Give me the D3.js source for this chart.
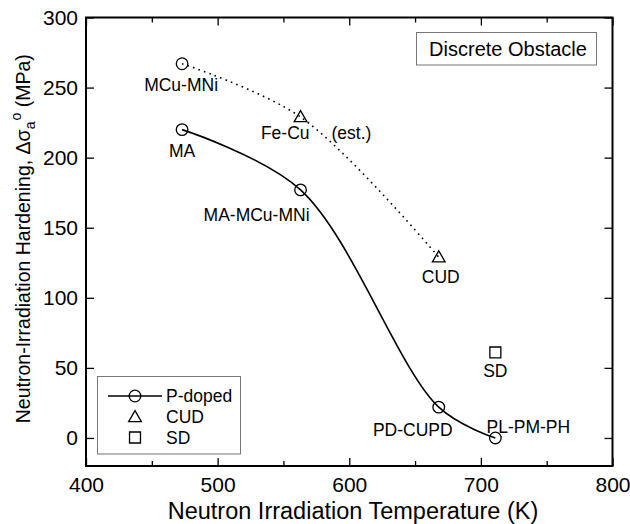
<!DOCTYPE html>
<html>
<head>
<meta charset="utf-8">
<script src="https://cdn.jsdelivr.net/npm/d3@7"></script>
<style>
  html, body { margin: 0; padding: 0; background: #fff; }
  svg text { font-family: "Liberation Sans", Arial, Helvetica, sans-serif; fill: #000; }
</style>
</head>
<body>
<svg id="chart" width="630" height="524"></svg>
<script>
// P-doped steels: irradiation temperature (K) and hardening (MPa)
const pDopedTemp = [473, 563, 668, 711];
const pDopedHard = [220, 177, 22, 0];
const pDopedNames = ["MA", "MA-MCu-MNi", "PD-CUPD", "PL-PM-PH"];

// Cu-containing series (dotted guide): first point circle, the rest triangles
const cuTemp = [473, 563, 668];
const cuHard = [267, 229, 129];
const cuNames = ["MCu-MNi", "Fe-Cu", "CUD"];
const cuShapes = ["circle", "triangle", "triangle"];

// SD steel
const sdTemp = [711];
const sdHard = [61];
const sdNames = ["SD"];

// Axis ticks
const xMajorTicks = [400, 500, 600, 700, 800];
const xMinorTicks = [450, 550, 650, 750];
const yTicks = [0, 50, 100, 150, 200, 250, 300];

const legendNames = ["P-doped", "CUD", "SD"];

const svg = d3.select("#chart");
const L = 86, R = 612.5, T = 17.5, B = 466;

const x = d3.scaleLinear().domain([400, 800]).range([L, R]);
const y = d3.scaleLinear().domain([-20, 300]).range([B, T]);

// Axes with inward ticks
function styleAxis(g) {
  g.select(".domain").remove();
  g.selectAll("line").attr("stroke", "#000").attr("stroke-width", 1.3);
  g.selectAll("text").attr("font-size", 21).attr("fill", "#000");
}
svg.append("g").attr("transform", `translate(0,${B})`)
  .call(d3.axisBottom(x).tickValues(xMajorTicks).tickSize(-8).tickPadding(11).tickFormat(d3.format("d")))
  .call(styleAxis);
svg.append("g").attr("transform", `translate(0,${B})`)
  .call(d3.axisBottom(x).tickValues(xMinorTicks).tickSize(-5).tickFormat(""))
  .call(styleAxis);
svg.append("g").attr("transform", `translate(0,${T})`)
  .call(d3.axisTop(x).tickValues(xMajorTicks).tickSize(-8).tickFormat(""))
  .call(styleAxis);
svg.append("g").attr("transform", `translate(0,${T})`)
  .call(d3.axisTop(x).tickValues(xMinorTicks).tickSize(-5).tickFormat(""))
  .call(styleAxis);
svg.append("g").attr("transform", `translate(${L},0)`)
  .call(d3.axisLeft(y).tickValues(yTicks).tickSize(-8).tickPadding(8).tickFormat(d3.format("d")))
  .call(styleAxis);
svg.append("g").attr("transform", `translate(${R},0)`)
  .call(d3.axisRight(y).tickValues(yTicks).tickSize(-8).tickFormat(""))
  .call(styleAxis);

// Frame
svg.append("rect").attr("x", L).attr("y", T).attr("width", R - L).attr("height", B - T)
  .attr("fill", "none").attr("stroke", "#000").attr("stroke-width", 2);

// Axis titles
svg.append("text").attr("x", 353).attr("y", 519).attr("text-anchor", "middle")
  .attr("font-size", 23.5).text("Neutron Irradiation Temperature (K)");

const yTitle = svg.append("text").attr("transform", `translate(30,${(T + B) / 2 - 3}) rotate(-90)`)
  .attr("text-anchor", "middle").attr("font-size", 19.5);
yTitle.append("tspan").text("Neutron-Irradiation Hardening, \u0394\u03C3");
yTitle.append("tspan").attr("font-size", 14).attr("dy", 5).text("a");
yTitle.append("tspan").attr("font-size", 14).attr("dy", -14).attr("dx", 1).text("o");
yTitle.append("tspan").attr("dy", 9).text(" (MPa)");

// Smooth curves through the points
const curve = d3.line().x(d => x(d[0])).y(d => y(d[1])).curve(d3.curveCatmullRom.alpha(0.5));
svg.append("path").datum(d3.zip(pDopedTemp, pDopedHard)).attr("d", curve)
  .attr("fill", "none").attr("stroke", "#000").attr("stroke-width", 1.6);
svg.append("path").datum(d3.zip(cuTemp, cuHard)).attr("d", curve)
  .attr("fill", "none").attr("stroke", "#000").attr("stroke-width", 1.6)
  .attr("stroke-dasharray", "1.6,4.2");

// Markers
const tri = d3.symbol().type(d3.symbolTriangle).size(70);
const sq = d3.symbol().type(d3.symbolSquare).size(120);
function marker(g, shape, cx, cy) {
  if (shape === "circle") {
    g.append("circle").attr("cx", cx).attr("cy", cy).attr("r", 5.8)
      .attr("fill", "none").attr("stroke", "#000").attr("stroke-width", 1.3);
  } else if (shape === "triangle") {
    g.append("path").attr("d", tri).attr("transform", `translate(${cx},${cy + 1})`)
      .attr("fill", "none").attr("stroke", "#000").attr("stroke-width", 1.3);
  } else {
    g.append("path").attr("d", sq).attr("transform", `translate(${cx},${cy})`)
      .attr("fill", "none").attr("stroke", "#000").attr("stroke-width", 1.3);
  }
}
const marks = svg.append("g");
pDopedTemp.forEach((t, i) => marker(marks, "circle", x(t), y(pDopedHard[i])));
cuTemp.forEach((t, i) => marker(marks, cuShapes[i], x(t), y(cuHard[i])));
sdTemp.forEach((t, i) => marker(marks, "square", x(t), y(sdHard[i])));

// Point labels: [dx, dy, anchor]
const labelFs = 17.5;
function label(px, py, txt, dx, dy, anchor) {
  svg.append("text").attr("x", px + dx).attr("y", py + dy).attr("text-anchor", anchor)
    .attr("font-size", labelFs).text(txt);
}
const pOff = [[0, 27, "middle"], [-44, 31, "middle"], [-26, 29, "middle"], [33, -5, "middle"]];
pDopedNames.forEach((n, i) => label(x(pDopedTemp[i]), y(pDopedHard[i]), n, ...pOff[i]));
const cOff = [[-1, 27, "middle"], [9, 22, "end"], [2, 26, "middle"]];
cuNames.forEach((n, i) => label(x(cuTemp[i]), y(cuHard[i]), n, ...cOff[i]));
label(x(cuTemp[1]), y(cuHard[1]), "(est.)", 31, 22, "start");
sdNames.forEach((n, i) => label(x(sdTemp[i]), y(sdHard[i]), n, 0, 25, "middle"));

// "Discrete Obstacle" box
svg.append("rect").attr("x", 416.5).attr("y", 32.5).attr("width", 180).attr("height", 32.5)
  .attr("fill", "#fff").attr("stroke", "#777").attr("stroke-width", 1);
svg.append("text").attr("x", 508).attr("y", 56).attr("text-anchor", "middle")
  .attr("font-size", 20).text("Discrete Obstacle");

// Legend
const lg = svg.append("g");
lg.append("rect").attr("x", 97.5).attr("y", 376.5).attr("width", 143).attr("height", 77.5)
  .attr("fill", "#fff").attr("stroke", "#777").attr("stroke-width", 1);
const legRows = [396, 417, 437.5];
lg.append("line").attr("x1", 108).attr("x2", 162).attr("y1", legRows[0]).attr("y2", legRows[0])
  .attr("stroke", "#000").attr("stroke-width", 1.6);
marker(lg, "circle", 135, legRows[0]);
marker(lg, "triangle", 135, legRows[1]);
marker(lg, "square", 135, legRows[2]);
legendNames.forEach((n, i) => {
  lg.append("text").attr("x", 166).attr("y", legRows[i] + 6).attr("font-size", 17.5).text(n);
});
</script>
</body>
</html>
